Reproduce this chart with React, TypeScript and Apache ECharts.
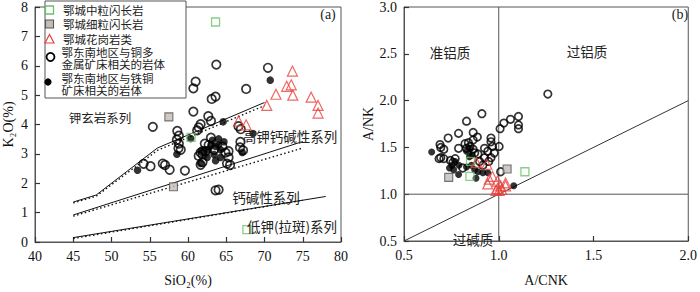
import React, { useEffect, useRef } from "react";
import * as echarts from "echarts";

const SERIF = "'Liberation Serif', 'Times New Roman', serif";
const CJK = "'Noto Sans CJK SC', sans-serif";

// ---------- Panel (a): K2O vs SiO2 ----------
const siO2Range = [40, 80];
const k2oRange = [0, 8];

const aGreenSquares: number[][] = [[63.6, 7.49], [60.4, 3.56], [67.7, 0.42]];
const aGraySquares: number[][] = [[57.5, 4.26], [58.1, 1.88]];
const aRedTriangles: number[][] = [
  [73.65, 5.82], [73.5, 5.35], [72.9, 5.3], [73.7, 5.0], [71.5, 5.03], [76.1, 4.93],
  [77.0, 4.65], [77.0, 4.39], [70.3, 4.65], [66.6, 4.12], [67.6, 3.99],
];
const aOpenCircles: number[][] = [
  [63.7, 6.04], [70.45, 5.93], [61.0, 5.46], [60.7, 5.23], [67.6, 5.21], [63.1, 4.87],
  [63.6, 4.95], [60.7, 4.44], [62.65, 4.28], [63.0, 4.12], [55.4, 3.92], [61.65, 4.01],
  [61.2, 3.8], [61.4, 3.9], [58.8, 3.62], [58.6, 3.78], [58.55, 3.48], [66.6, 3.94],
  [66.9, 3.84], [66.85, 3.41], [66.8, 3.22], [67.2, 3.12], [61.9, 3.09], [65.3, 3.09],
  [58.8, 3.35], [58.75, 3.19], [59.05, 3.14], [54.2, 2.66], [55.1, 2.58], [56.7, 2.67],
  [57.0, 2.62], [57.6, 2.46], [59.6, 2.43], [61.9, 2.98], [62.7, 3.3], [65.1, 2.67],
  [65.5, 2.62], [63.6, 1.76], [64.0, 1.78], [61.65, 3.04], [62.3, 3.09], [63.4, 3.14],
  [64.5, 3.25], [64.9, 3.04], [65.3, 2.88], [61.4, 2.93], [61.65, 2.63], [61.9, 2.72],
  [63.0, 3.55], [62.2, 3.35],
];
const aFilledCircles: number[][] = [
  [70.75, 5.51], [64.6, 4.09], [68.5, 3.69], [60.35, 3.52], [64.0, 3.51], [63.2, 3.46],
  [64.7, 3.41], [63.6, 3.25], [62.7, 3.14], [64.25, 3.14], [61.9, 3.09], [63.4, 2.98],
  [62.5, 2.88], [64.25, 2.88], [61.65, 2.67], [63.6, 2.77], [67.1, 3.05], [58.55, 2.99],
  [53.4, 2.44], [63.0, 3.3], [64.0, 3.3],
];

// series boundaries (solid and dotted versions)
const shoshoniteSolid: number[][] = [[45, 1.36], [48, 1.6], [56, 3.2], [70, 4.75]];
const shoshoniteDotted: number[][] = [[45, 1.33], [48, 1.56], [56, 3.12], [70, 4.64]];
const highKSolid: number[][] = [[45, 0.92], [75, 3.42]];
const highKDotted: number[][] = [[45, 0.88], [75, 3.2]];
const lowKSolid: number[][] = [[45, 0.15], [78, 1.55]];
const lowKDotted: number[][] = [[45, 0.12], [75, 1.42]];

// ---------- Panel (b): A/NK vs A/CNK ----------
const acnkRange = [0.5, 2.0];
const ankRange = [0.5, 3.0];

const bGreenSquares: number[][] = [[0.851, 1.35], [0.848, 1.19], [1.138, 1.24]];
const bGraySquares: number[][] = [[0.736, 1.18], [1.044, 1.27]];
const bRedTriangles: number[][] = [
  [0.882, 1.34], [0.937, 1.32], [0.967, 1.19], [0.95, 1.16], [0.942, 1.11], [0.993, 1.14],
  [1.01, 1.09], [1.015, 1.05], [1.036, 1.12], [0.993, 1.06], [1.036, 1.09], [0.985, 1.04],
  [1.002, 1.04],
];
const bOpenCircles: number[][] = [
  [1.259, 2.07], [0.911, 1.86], [0.83, 1.78], [0.788, 1.65], [0.865, 1.66], [0.887, 1.61],
  [0.733, 1.6], [0.69, 1.53], [0.959, 1.6], [1.007, 1.7], [1.027, 1.76], [1.062, 1.8],
  [1.104, 1.83], [1.104, 1.74], [1.104, 1.7], [0.694, 1.39], [0.71, 1.38], [0.758, 1.34],
  [0.822, 1.54], [0.848, 1.51], [0.83, 1.49], [0.865, 1.48], [0.788, 1.49], [0.873, 1.44],
  [0.89, 1.43], [0.925, 1.49], [0.942, 1.46], [0.959, 1.56], [0.967, 1.51], [0.976, 1.44],
  [1.002, 1.51], [0.925, 1.39], [0.959, 1.39], [0.947, 1.35], [0.81, 1.28], [0.899, 1.35],
  [0.916, 1.31], [1.01, 1.24], [0.694, 1.5], [0.71, 1.48], [0.745, 1.36], [0.77, 1.38],
  [0.685, 1.38], [0.865, 1.58], [0.84, 1.55],
];
const bFilledCircles: number[][] = [
  [0.646, 1.45], [0.753, 1.31], [0.762, 1.26], [0.788, 1.21], [0.83, 1.29], [0.856, 1.31],
  [0.873, 1.26], [0.89, 1.24], [0.916, 1.23], [0.942, 1.23], [0.88, 1.17], [1.079, 1.09],
  [0.83, 1.46], [0.848, 1.49], [0.845, 1.4], [0.86, 1.42], [0.79, 1.31], [0.77, 1.35],
  [0.74, 1.28],
];

const bVertical: number[][] = [[1.0, 0.5], [1.0, 3.0]];
const bHorizontal: number[][] = [[0.5, 1.0], [2.0, 1.0]];
const bDiagonal: number[][] = [[0.5, 0.5], [2.0, 2.0]];

// ---------- Legend text (one line per row) ----------
const legendLines = [
  "鄂城中粒闪长岩",
  "鄂城细粒闪长岩",
  "鄂城花岗岩类",
  "鄂东南地区与铜多",
  "金属矿床相关的岩体",
  "鄂东南地区与铁铜",
  "矿床相关的岩体",
];

const GREEN = "#6cc06c";
const GRAY_FILL = "#c4bcb5";
const RED = "#e8413c";
const FRAME = "#555";

function axisBase(min: number, max: number, interval: number, grid: number, fmt?: (v: number) => string) {
  return {
    gridIndex: grid,
    type: "value",
    min,
    max,
    interval,
    axisLine: { show: true, onZero: false, lineStyle: { color: FRAME, width: 1 } },
    axisTick: { show: true, inside: true, length: 5, lineStyle: { color: "#333", width: 1.2 } },
    axisLabel: {
      color: "#111",
      fontFamily: SERIF,
      fontSize: 14,
      margin: 7,
      formatter: fmt ? (v: number) => fmt(v) : undefined,
    },
    splitLine: { show: false },
    nameTextStyle: { color: "#111", fontFamily: SERIF, fontSize: 14 },
  };
}

function scatter(data: number[][], grid: number, kind: string, small: boolean) {
  const base: any = { type: "scatter", xAxisIndex: grid, yAxisIndex: grid, data, z: 3 };
  if (kind === "green") {
    base.symbol = "rect";
    base.symbolSize = 8;
    base.itemStyle = { color: "rgba(255,255,255,0)", borderColor: GREEN, borderWidth: 1.3 };
  } else if (kind === "gray") {
    base.symbol = "rect";
    base.symbolSize = 8;
    base.itemStyle = { color: GRAY_FILL, borderColor: "#555", borderWidth: 1.1 };
  } else if (kind === "red") {
    base.symbol = "triangle";
    base.symbolSize = 10;
    base.itemStyle = { color: "rgba(255,255,255,0)", borderColor: RED, borderWidth: 1.2 };
    base.z = 4;
  } else if (kind === "open") {
    base.symbol = "circle";
    base.symbolSize = small ? 7.5 : 8.5;
    base.itemStyle = { color: "rgba(255,255,255,0)", borderColor: "#000", borderWidth: 1.7 };
  } else {
    base.symbol = "circle";
    base.symbolSize = small ? 7 : 7.5;
    base.itemStyle = { color: "#000", borderWidth: 0 };
  }
  return base;
}

function line(data: number[][], grid: number, dotted: boolean, color = "#111") {
  return {
    type: "line",
    xAxisIndex: grid,
    yAxisIndex: grid,
    data,
    symbol: "none",
    silent: true,
    z: 2,
    lineStyle: { color, width: dotted ? 1.4 : 1, type: dotted ? [1.5, 2.5] : "solid" },
  };
}

function txt(text: string, x: number, y: number, size: number, font = CJK, align = "center") {
  return {
    type: "text",
    x,
    y,
    z: 10,
    style: {
      text,
      font: `${size}px ${font}`,
      fill: "#222",
      lineHeight: Math.round(size * 1.1),
      textAlign: align,
      textVerticalAlign: "middle",
      align,
      verticalAlign: "middle",
    },
  };
}

export default function App() {
  const ref = useRef<HTMLDivElement>(null);
  useEffect(() => {
    if (!ref.current) return;
    const chart = echarts.init(ref.current, null, { renderer: "svg" });

    const legendY = [10, 24, 39, 57, 82];
    // per-row line heights so that rows centre at 10, 24, 39, 52, 63.5, 78, 89.5
    const rowHeights = [14, 14, 16, 10, 13, 16, 7];
    const rich: any = {};
    rowHeights.forEach((h, i) => {
      rich["r" + i] = {
        fontFamily: CJK,
        fontSize: 11.5,
        lineHeight: h,
        color: "#222",
        padding: [0, 0, 0, i < 3 ? 1.5 : 0],
      };
    });
    const legendText = legendLines.map((t, i) => `{r${i}|${t}}`).join("\n");

    const graphic: any[] = [
      {
        type: "rect",
        z: 9,
        shape: { x: 45, y: 1, width: 141, height: 97 },
        style: { fill: "#fff", stroke: FRAME, lineWidth: 1 },
      },
      { type: "rect", z: 10, shape: { x: 45.5, y: legendY[0] - 4, width: 8, height: 8 }, style: { fill: "#fff", stroke: GREEN, lineWidth: 1.3 } },
      { type: "rect", z: 10, shape: { x: 45.5, y: legendY[1] - 4, width: 8, height: 8 }, style: { fill: GRAY_FILL, stroke: "#555", lineWidth: 1.1 } },
      { type: "polygon", z: 10, shape: { points: [[49.5, legendY[2] - 4.5], [45, legendY[2] + 4], [54, legendY[2] + 4]] }, style: { fill: "none", stroke: RED, lineWidth: 1.2 } },
      { type: "circle", z: 10, shape: { cx: 50.5, cy: legendY[3], r: 4 }, style: { fill: "none", stroke: "#000", lineWidth: 1.8 } },
      { type: "circle", z: 10, shape: { cx: 48, cy: legendY[4], r: 3.6 }, style: { fill: "#000" } },
      {
        type: "text",
        x: 61.5,
        y: 3,
        z: 10,
        style: {
          text: legendText,
          rich,
          font: `11.5px ${CJK}`,
          fill: "#222",
          textAlign: "left",
          textVerticalAlign: "top",
          align: "left",
          verticalAlign: "top",
        },
      },
    ];
    graphic.push(
      txt("钾玄岩系列", 100, 117, 12.5),
      txt("高钾钙碱性系列", 290, 136, 13.5),
      txt("钙碱性系列", 266, 197, 13.5),
      txt("低钾(拉斑)系列", 292, 226, 13.5),
      txt("(a)", 328, 14, 14, SERIF),
      txt("准铝质", 450, 52, 13.5),
      txt("过铝质", 587, 51, 13.5),
      txt("过碱质", 473, 239, 13.5),
      txt("(b)", 680, 14, 14, SERIF)
    );

    const option: any = {
      animation: false,
      backgroundColor: "#fff",
      grid: [
        { left: 33.5, top: 1, width: 307.5, height: 252, show: true, borderColor: FRAME, borderWidth: 1 },
        { left: 404, top: 1, width: 292, height: 252, show: true, borderColor: FRAME, borderWidth: 1 },
      ],
      xAxis: [
        { ...axisBase(siO2Range[0], siO2Range[1], 5, 0), name: "SiO₂(%)", nameLocation: "middle", nameGap: 31 },
        { ...axisBase(acnkRange[0], acnkRange[1], 0.5, 1, (v) => v.toFixed(1)), name: "A/CNK", nameLocation: "middle", nameGap: 32 },
      ],
      yAxis: [
        { ...axisBase(k2oRange[0], k2oRange[1], 1, 0), name: "K₂O(%)", nameLocation: "middle", nameGap: 20, nameRotate: 90 },
        { ...axisBase(ankRange[0], ankRange[1], 0.5, 1, (v) => v.toFixed(1)), name: "A/NK", nameLocation: "middle", nameGap: 17, nameRotate: 90 },
      ],
      graphic,
      series: [
        line(shoshoniteSolid, 0, false),
        line(shoshoniteDotted, 0, true),
        line(highKSolid, 0, false),
        line(highKDotted, 0, true),
        line(lowKSolid, 0, false),
        line(lowKDotted, 0, true),
        scatter(aOpenCircles, 0, "open", false),
        scatter(aFilledCircles, 0, "filled", false),
        scatter(aGraySquares, 0, "gray", false),
        scatter(aGreenSquares, 0, "green", false),
        scatter(aRedTriangles, 0, "red", false),
        line(bVertical, 1, false, "#555"),
        line(bHorizontal, 1, false, "#555"),
        line(bDiagonal, 1, false, "#333"),
        scatter(bOpenCircles, 1, "open", true),
        scatter(bFilledCircles, 1, "filled", true),
        scatter(bGraySquares, 1, "gray", true),
        scatter(bGreenSquares, 1, "green", true),
        scatter(bRedTriangles, 1, "red", true),
      ],
    };
    chart.setOption(option);
    return () => chart.dispose();
  }, []);

  return (
    <div
      ref={ref}
      style={{ position: "fixed", left: 0, top: 0, width: 700, height: 292, background: "#fff" }}
    />
  );
}
